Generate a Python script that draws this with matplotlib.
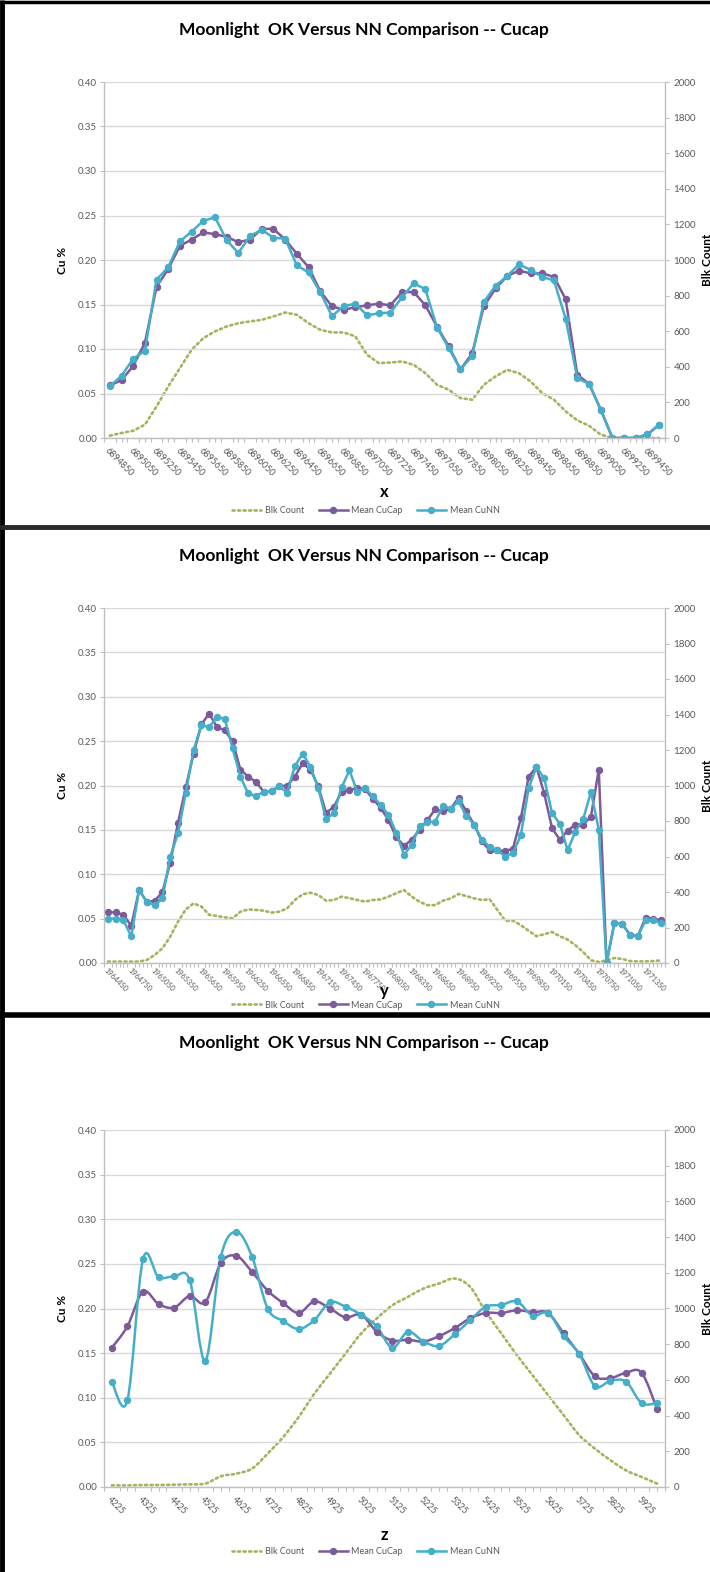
import numpy as np
import matplotlib
matplotlib.use('Agg')
import matplotlib.pyplot as plt
from matplotlib.path import Path
from matplotlib.patches import PathPatch
from matplotlib.lines import Line2D

plt.rcParams['font.family'] = ['Lato', 'DejaVu Sans']

# ---- data ----
title = 'Moonlight  OK Versus NN Comparison -- Cucap'
legend_names = ['Blk Count', 'Mean CuCap', 'Mean CuNN']

# panel 1 : x (48 categories, every 2nd labelled)
x_labels1 = ['6894850', '6895050', '6895250', '6895450', '6895650', '6895850',
             '6896050', '6896250', '6896450', '6896650', '6896850', '6897050',
             '6897250', '6897450', '6897650', '6897850', '6898050', '6898250',
             '6898450', '6898650', '6898850', '6899050', '6899250', '6899450']
cap1 = [0.059, 0.065, 0.081, 0.107, 0.170, 0.190, 0.216, 0.223, 0.231, 0.229,
        0.226, 0.220, 0.223, 0.235, 0.235, 0.223, 0.207, 0.192, 0.165, 0.148,
        0.144, 0.147, 0.149, 0.151, 0.149, 0.164, 0.164, 0.149, 0.125, 0.103,
        0.077, 0.095, 0.148, 0.168, 0.182, 0.188, 0.185, 0.185, 0.181, 0.156,
        0.071, 0.061, 0.032, 0.0, 0.0, 0.0, 0.004, 0.015]
cnn1 = [0.058, 0.070, 0.089, 0.098, 0.178, 0.192, 0.221, 0.232, 0.244, 0.248,
        0.222, 0.208, 0.227, 0.234, 0.225, 0.224, 0.194, 0.186, 0.164, 0.137,
        0.148, 0.151, 0.138, 0.140, 0.141, 0.158, 0.174, 0.167, 0.124, 0.101,
        0.077, 0.092, 0.153, 0.171, 0.182, 0.195, 0.189, 0.181, 0.177, 0.134,
        0.067, 0.061, 0.032, 0.0, 0.0, 0.0, 0.004, 0.015]
blk1 = [13, 28, 41, 75, 178, 290, 393, 496, 561, 599,
        627, 645, 655, 664, 683, 705, 692, 645, 608, 593,
        593, 571, 468, 421, 424, 430, 411, 364, 299, 271,
        224, 215, 299, 346, 383, 364, 318, 252, 215, 150,
        99, 69, 19, 0, 0, 0, 0, 0]

# panel 2 : y (72 categories, every 3rd labelled)
x_labels2 = ['1964450', '1964750', '1965050', '1965350', '1965650', '1965950',
             '1966250', '1966550', '1966850', '1967150', '1967450', '1967750',
             '1968050', '1968350', '1968650', '1968950', '1969250', '1969550',
             '1969850', '1970150', '1970450', '1970750', '1971050', '1971350']
cap2 = [0.057, 0.057, 0.054, 0.042, 0.082, 0.069, 0.070, 0.080, 0.113, 0.158,
        0.198, 0.236, 0.269, 0.281, 0.266, 0.262, 0.250, 0.218, 0.210,
        0.204, 0.193, 0.194, 0.199, 0.200, 0.210, 0.225, 0.218, 0.199, 0.169,
        0.176, 0.193, 0.195, 0.197, 0.196, 0.185, 0.175,
        0.161, 0.142, 0.132, 0.139, 0.150, 0.161, 0.173, 0.171, 0.174, 0.186,
        0.171, 0.156, 0.137, 0.127, 0.127, 0.126, 0.129, 0.163, 0.210, 0.221,
        0.191, 0.152, 0.139, 0.149, 0.156, 0.156, 0.165, 0.218, 0.0, 0.045,
        0.044, 0.032, 0.030, 0.051, 0.050, 0.048]
cnn2 = [0.050, 0.050, 0.048, 0.030, 0.082, 0.069, 0.065, 0.073, 0.120, 0.146,
        0.192, 0.240, 0.268, 0.266, 0.277, 0.275, 0.242, 0.210, 0.191,
        0.188, 0.193, 0.194, 0.199, 0.192, 0.222, 0.236, 0.221, 0.197, 0.162,
        0.169, 0.198, 0.217, 0.193, 0.197, 0.188, 0.178,
        0.167, 0.147, 0.122, 0.133, 0.154, 0.159, 0.159, 0.177, 0.174, 0.182,
        0.166, 0.156, 0.139, 0.131, 0.127, 0.120, 0.124, 0.144, 0.197, 0.221,
        0.208, 0.169, 0.157, 0.127, 0.148, 0.162, 0.193, 0.150, 0.0, 0.045,
        0.044, 0.032, 0.030, 0.048, 0.048, 0.045]
blk2 = [8, 8, 8, 8, 8, 17, 45, 83, 148, 233,
        302, 336, 318, 271, 265, 257, 252, 289, 302,
        299, 295, 284, 289, 308, 355, 387, 396, 383, 351,
        355, 374, 365, 355, 346, 355, 358,
        374, 393, 411, 374, 345, 326, 326, 351, 364, 389,
        377, 364, 355, 359, 298, 238, 238, 213, 181, 151,
        162, 175, 151, 132, 100, 62, 15, 6, 15, 28,
        23, 11, 9, 9, 11, 15]

# panel 3 : z (36 categories, every 2nd labelled)
x_labels3 = ['4225', '4325', '4425', '4525', '4625', '4725', '4825', '4925', '5025',
             '5125', '5225', '5325', '5425', '5525', '5625', '5725', '5825', '5925']
cap3 = [0.156, 0.180, 0.219, 0.205, 0.201, 0.214, 0.207, 0.251, 0.259, 0.241,
        0.220, 0.206, 0.195, 0.208, 0.200, 0.190, 0.193, 0.174, 0.164, 0.165,
        0.163, 0.169, 0.178, 0.189, 0.195, 0.195, 0.198, 0.196, 0.195, 0.172,
        0.149, 0.124, 0.122, 0.128, 0.128, 0.087]
cnn3 = [0.118, 0.097, 0.255, 0.235, 0.236, 0.232, 0.141, 0.258, 0.286, 0.258,
        0.200, 0.186, 0.177, 0.187, 0.207, 0.202, 0.193, 0.180, 0.156, 0.174,
        0.163, 0.158, 0.171, 0.187, 0.202, 0.204, 0.208, 0.192, 0.195, 0.169,
        0.149, 0.113, 0.119, 0.118, 0.094, 0.094]
blk3 = [9, 9, 11, 11, 13, 15, 19, 60, 75, 103,
        187, 280, 393, 523, 635, 748, 860, 944, 1018, 1065,
        1112, 1140, 1168, 1121, 981, 860, 738, 626, 514, 402,
        290, 215, 150, 93, 56, 19]

# ---- styling ----
W, H = 710, 1572
OLIVE = '#a8b15c'
PURPLE = '#7d5a9a'
CYAN = '#46aec8'
GRID = '#d9d9d9'
AXC = '#bfbfbf'
TXT = '#595959'
DOT = (0, (0.8, 1.3))

fig = plt.figure(figsize=(W / 100, H / 100), dpi=100)


def fx(p):
    return p / W


def fy(p):
    return 1 - p / H


def smooth_path(xs, ys):
    # Excel-like smoothed line: cubic bezier through the points
    pts = np.column_stack([xs, ys]).astype(float)
    n = len(pts)
    verts = [pts[0]]
    codes = [Path.MOVETO]
    for i in range(n - 1):
        p0 = pts[i - 1] if i > 0 else pts[i]
        p1, p2 = pts[i], pts[i + 1]
        p3 = pts[i + 2] if i + 2 < n else pts[i + 1]
        verts += [p1 + (p2 - p0) / 6, p2 - (p3 - p1) / 6, p2]
        codes += [Path.CURVE4] * 3
    return Path(verts, codes)


def draw_panel(top, bottom, cap, cnn, blk, labels, step, xname,
               title_y, xlabel_y, legend_y, smooth, xt_size, xt_pad):
    ax = fig.add_axes([fx(104), fy(bottom), fx(561), (bottom - top) / H])
    ax2 = ax.twinx()
    ax.set_zorder(ax2.get_zorder() + 1)
    ax.patch.set_visible(False)

    x = np.arange(len(cap))

    # block count on the right axis
    if smooth:
        ax2.add_patch(PathPatch(smooth_path(x, blk), fill=False, edgecolor=OLIVE,
                                lw=1.9, ls=DOT, capstyle='round'))
    else:
        ax2.plot(x, blk, color=OLIVE, lw=1.9, ls=DOT, dash_capstyle='round')

    for ys, col in [(cap, PURPLE), (cnn, CYAN)]:
        if smooth:
            ax.add_patch(PathPatch(smooth_path(x, ys), fill=False, edgecolor=col,
                                   lw=1.8, capstyle='round', joinstyle='round'))
            ax.plot(x, ys, ls='none', marker='o', ms=4.3, color=col)
        else:
            ax.plot(x, ys, color=col, lw=1.8, marker='o', ms=4.3)

    ax.set_xlim(-0.5, len(cap) - 0.5)
    ax.set_ylim(0, 0.40)
    ax2.set_ylim(0, 2000)

    yt = np.arange(0, 0.401, 0.05)
    ax.set_yticks(yt)
    ax.set_yticklabels([f'{v:.2f}' for v in yt])
    ax2.set_yticks(np.arange(0, 2001, 200))
    ax.yaxis.grid(True, color=GRID, lw=1.0)
    ax.set_axisbelow(True)

    ax.set_xticks(x[::step])
    ax.set_xticklabels(labels, rotation=-45, ha='left', va='top',
                       rotation_mode='anchor')
    ax.set_xticks(np.arange(-0.5, len(cap), 0.5), minor=True)
    ax.tick_params(axis='x', which='major', length=0, pad=xt_pad,
                   labelsize=xt_size, labelcolor=TXT)
    ax.tick_params(axis='x', which='minor', length=3, color=AXC, width=0.8)
    ax.tick_params(axis='y', length=3, color=AXC, width=0.8, labelsize=7,
                   labelcolor=TXT, pad=2)
    ax2.tick_params(axis='y', length=3, color=AXC, width=0.8, labelsize=7,
                    labelcolor=TXT, pad=3)

    for s in ['top', 'right']:
        ax.spines[s].set_visible(False)
    for s in ['top', 'left', 'bottom']:
        ax2.spines[s].set_visible(False)
    for sp in [ax.spines['left'], ax.spines['bottom'], ax2.spines['right']]:
        sp.set_color(AXC)
        sp.set_linewidth(1.0)

    ax.set_ylabel('Cu %', fontsize=8.5, fontweight='bold')
    ax.yaxis.set_label_coords((68 - 104) / 561, 0.5)
    ax2.set_ylabel('Blk Count', fontsize=8.5, fontweight='bold')
    ax2.yaxis.set_label_coords((702 - 104) / 561, 0.5)

    fig.text(fx(364), fy(title_y), title, ha='center', va='center',
             fontsize=12.5, fontweight='bold')
    fig.text(fx(384), fy(xlabel_y), xname, ha='center', va='center',
             fontsize=12, fontweight='bold')

    handles = [Line2D([], [], color=OLIVE, lw=1.9, ls=DOT, dash_capstyle='round'),
               Line2D([], [], color=PURPLE, lw=1.8, marker='o', ms=4.3),
               Line2D([], [], color=CYAN, lw=1.8, marker='o', ms=4.3)]
    fig.legend(handles, legend_names, loc='center',
               bbox_to_anchor=(fx(366), fy(legend_y)), ncol=3, frameon=False,
               fontsize=6.5, handlelength=3.2, columnspacing=1.6,
               handletextpad=0.4, labelcolor=TXT)


draw_panel(82, 438, cap1, cnn1, blk1, x_labels1, 2, 'x', 30, 492, 511, False, 6.5, 6)
draw_panel(608, 963, cap2, cnn2, blk2, x_labels2, 3, 'y', 556, 991, 1005, False, 5.3, 3)
draw_panel(1130, 1487, cap3, cnn3, blk3, x_labels3, 2, 'z', 1043, 1535, 1552, True, 6.5, 6)

# black frame pieces around the stacked screenshots
frame = dict(color='black', transform=fig.transFigure, solid_capstyle='butt')
fig.add_artist(Line2D([fx(2), fx(2)], [0, 1], lw=3.5, **frame))
fig.add_artist(Line2D([0, 1], [fy(1.5), fy(1.5)], lw=2.5, **frame))
fig.add_artist(Line2D([0, 1], [fy(527), fy(527)], lw=3.5, color='#2a2a2a',
                      transform=fig.transFigure, solid_capstyle='butt'))
fig.add_artist(Line2D([0, 1], [fy(1015), fy(1015)], lw=4, **frame))

fig.savefig('out.png', dpi=100)
